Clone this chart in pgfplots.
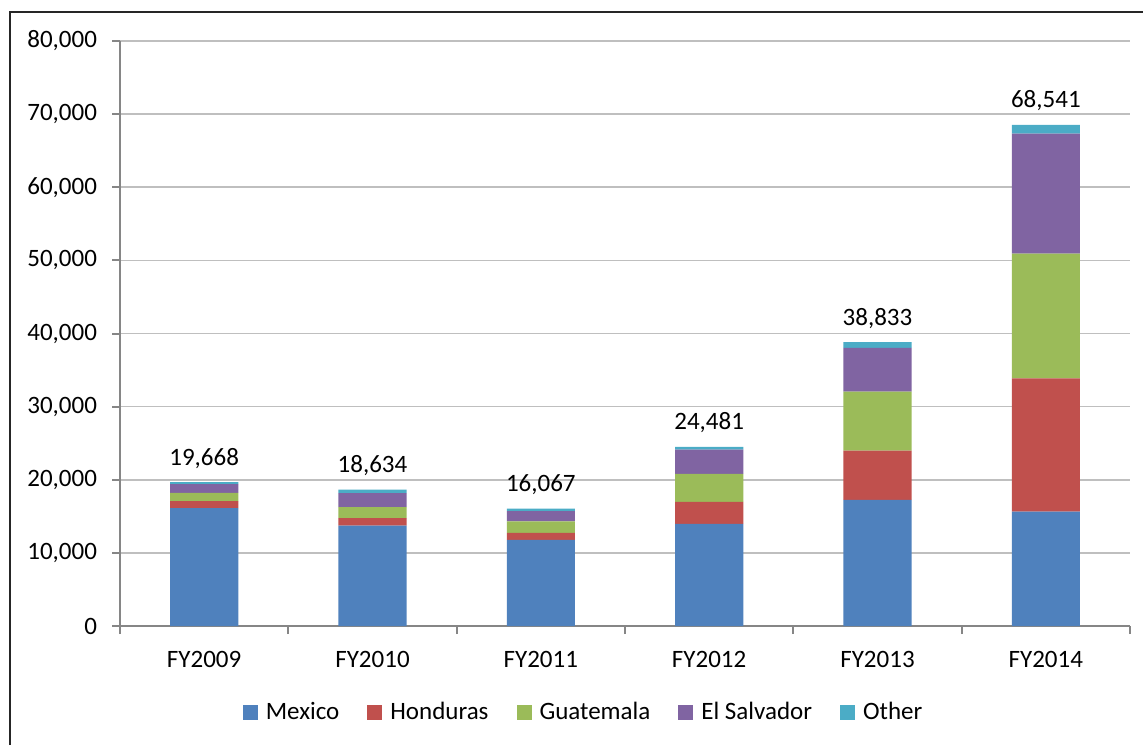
\documentclass[border=0pt]{standalone}
\usepackage{pgfplots}
\pgfplotsset{compat=1.18}
\usepackage{fontspec}
\setmainfont{Carlito}
\definecolor{cMex}{HTML}{4F81BD}
\definecolor{cHon}{HTML}{C0504D}
\definecolor{cGua}{HTML}{9BBB59}
\definecolor{cSal}{HTML}{8064A2}
\definecolor{cOth}{HTML}{4BACC6}
\definecolor{axgray}{HTML}{868686}
\definecolor{gridgray}{HTML}{BFBFBF}
\begin{document}
\begin{tikzpicture}
\useasboundingbox (0,0) rectangle (571.5pt,372.5pt);
\draw[line width=0.8pt, black!85] (5pt,0) -- (5pt,366.5pt) -- (571.5pt,366.5pt);
\begin{axis}[
  at={(60pt,59.5pt)}, anchor=south west,
  scale only axis, width=505pt, height=292.5pt,
  xmin=-0.5, xmax=5.5, ymin=0, ymax=80000,
  ybar stacked, bar width=0.405,
  axis lines*=left,
  axis line style={-, draw=axgray, line width=1pt},
  ymajorgrids, grid style={draw=gridgray, line width=0.8pt},
  ytick={0,10000,...,80000},
  yticklabel style={font=\fontsize{12.5}{14}\selectfont, xshift=-4pt},
  /pgf/number format/assume math mode=true,
  /pgf/number format/1000 sep={,},
  scaled y ticks=false,
  xtick={0,...,5},
  xticklabels={FY2009,FY2010,FY2011,FY2012,FY2013,FY2014},
  xticklabel style={font=\fontsize{12.5}{14}\selectfont, yshift=-5pt},
  minor xtick={-0.5,0.5,...,5.5},
  tick align=outside,
  major tick length=4pt, minor tick length=4pt,
  x tick style={draw=none}, minor x tick style={draw=axgray, line width=1pt},
  y tick style={draw=axgray, line width=1pt},
  legend columns=-1,
  legend style={draw=none, fill=none, at={(0.46,-0.147)}, anchor=center,
    font=\fontsize{12.5}{14}\selectfont,
    /tikz/every odd column/.append style={column sep=2pt},
    /tikz/every even column/.append style={column sep=12pt}},
  legend image code/.code={\fill[#1] (0pt,-3.75pt) rectangle (7.5pt,3.75pt);},
]
\addplot[fill=cMex, draw=none] coordinates {(0,16114) (1,13724) (2,11768) (3,13974) (4,17240) (5,15634)};
\addplot[fill=cHon, draw=none] coordinates {(0,968) (1,1017) (2,974) (3,2997) (4,6747) (5,18244)};
\addplot[fill=cGua, draw=none] coordinates {(0,1115) (1,1517) (2,1565) (3,3835) (4,8068) (5,17057)};
\addplot[fill=cSal, draw=none] coordinates {(0,1221) (1,1910) (2,1394) (3,3314) (4,5990) (5,16404)};
\addplot[fill=cOth, draw=none] coordinates {(0,250) (1,466) (2,366) (3,361) (4,788) (5,1202)};
\legend{Mexico,Honduras,Guatemala,El Salvador,Other}
\foreach \x/\v/\t in {0/19668/{19,668},1/18634/{18,634},2/16067/{16,067},3/24481/{24,481},4/38833/{38,833},5/68541/{68,541}}{
  \edef\temp{\noexpand\node[anchor=base, inner sep=0pt, yshift=8.5pt, font=\noexpand\fontsize{12.5}{14}\noexpand\selectfont] at (axis cs:\x,\v) {\t};}
  \temp
}
\end{axis}
\end{tikzpicture}
\end{document}
